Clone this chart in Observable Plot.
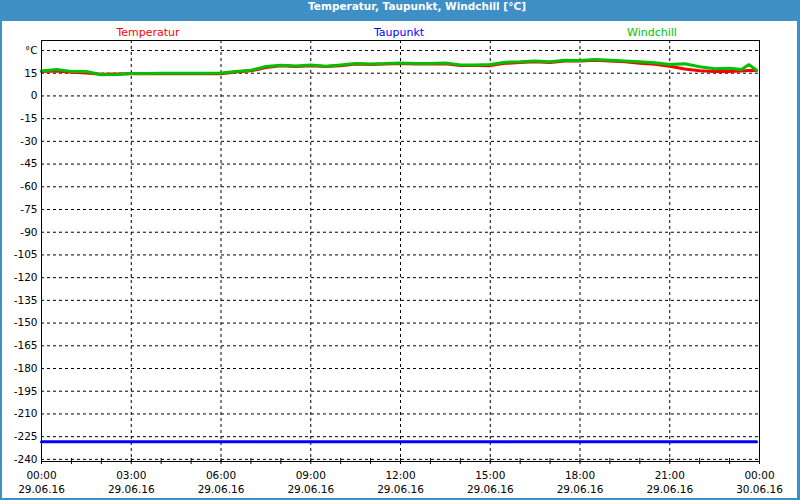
<!DOCTYPE html>
<html>
<head>
<meta charset="utf-8">
<script src="https://cdn.jsdelivr.net/npm/d3@7"></script>
<script src="https://cdn.jsdelivr.net/npm/@observablehq/plot@0.6"></script>
<style>
  html, body { margin: 0; padding: 0; background: #fff; }
  #frame { position: relative; width: 800px; height: 500px; background: #3d8fc6; overflow: hidden; }
  #inner { position: absolute; left: 2px; top: 21px; width: 795px; height: 477px; background: #fff; }
  #title { position: absolute; left: 0; top: 0; width: 834px; height: 21px; line-height: 21px; text-align: center;
           color: #fff; font: bold 10.5px "DejaVu Sans", sans-serif; }
  .leg { position: absolute; top: 26px; font: 11px "DejaVu Sans", sans-serif; transform: translateX(-50%); white-space: nowrap; }
  #chart { position: absolute; left: 0; top: 0; }
</style>
</head>
<body>
<div id="frame">
  <div id="title"></div>
  <div id="inner"><div id="chart"></div></div>
</div>
<script>
// ---- data ----
const title = "Temperatur, Taupunkt, Windchill [°C]";
const seriesNames = ["Temperatur", "Taupunkt", "Windchill"];
const seriesColors = ["#ff0000", "#0000ff", "#00c000"];

const hours = [0, 0.5, 1, 1.5, 2, 2.5, 3, 3.5, 4, 4.5, 5, 5.5, 6, 6.5, 7, 7.5, 8, 8.5, 9, 9.5,
  10, 10.5, 11, 11.5, 12, 12.5, 13, 13.5, 14, 14.5, 15, 15.5, 16, 16.5, 17, 17.5, 18, 18.5, 19, 19.5,
  20, 20.5, 21, 21.5, 22, 22.5, 23, 23.4, 23.65, 23.9];

const temperatur = [16.1, 16.5, 15.6, 15.2, 14.3, 14.5, 14.6, 14.6, 14.6, 14.6, 14.6, 14.6, 14.6, 15.8, 16.6, 18.8, 19.9, 19.4, 20.0, 19.4,
  20.0, 21.0, 20.8, 21.0, 21.4, 21.1, 21.1, 21.2, 20.1, 20.1, 20.0, 21.5, 22.0, 22.6, 22.1, 23.1, 23.1, 23.5, 23.1, 22.5,
  21.5, 20.9, 19.6, 17.8, 16.6, 16.2, 16.2, 16.4, 16.8, 16.8];

const windchill = [16.5, 17.4, 16.1, 16.1, 14.0, 14.2, 14.8, 14.8, 15.0, 15.0, 15.0, 15.0, 15.2, 16.1, 17.0, 19.4, 20.3, 19.8, 20.5, 19.6,
  20.5, 21.4, 21.1, 21.4, 21.8, 21.4, 21.4, 21.8, 20.5, 20.5, 20.8, 22.3, 22.5, 23.1, 22.5, 23.6, 23.4, 24.0, 23.6, 23.1,
  22.6, 21.9, 20.8, 21.2, 19.3, 18.0, 18.3, 17.4, 20.7, 17.0];

const taupunktHours = [0, 23.9];
const taupunkt = [-228.4, -228.4];

const yTicks = [30, 15, 0, -15, -30, -45, -60, -75, -90, -105, -120, -135, -150, -165, -180, -195, -210, -225, -240];
const yTickLabels = ["°C", "15", "0", "-15", "-30", "-45", "-60", "-75", "-90", "-105", "-120", "-135", "-150", "-165", "-180", "-195", "-210", "-225", "-240"];
const xTicks = [0, 3, 6, 9, 12, 15, 18, 21, 24];
const xTickTimes = ["00:00", "03:00", "06:00", "09:00", "12:00", "15:00", "18:00", "21:00", "00:00"];
const xTickDates = ["29.06.16", "29.06.16", "29.06.16", "29.06.16", "29.06.16", "29.06.16", "29.06.16", "29.06.16", "30.06.16"];
const xMinorTicks = d3.range(0, 25);

// ---- build ----
document.getElementById("title").textContent = title;
const legX = [148, 399, 652];
seriesNames.forEach((n, i) => {
  const d = document.createElement("div");
  d.className = "leg";
  d.textContent = n;
  d.style.left = legX[i] + "px";
  d.style.color = seriesColors[i];
  document.getElementById("frame").appendChild(d);
});

const rows = [];
hours.forEach((h, i) => rows.push({h, v: temperatur[i], s: "Temperatur"}));
hours.forEach((h, i) => rows.push({h, v: windchill[i], s: "Windchill"}));
const dew = taupunktHours.map((h, i) => ({h, v: taupunkt[i], s: "Taupunkt"}));

const chart = Plot.plot({
  width: 795,
  height: 477,
  marginLeft: 39,
  marginRight: 38,
  marginTop: 19,
  marginBottom: 37,
  style: {fontFamily: "DejaVu Sans, sans-serif", fontSize: "10.5px", color: "#000", background: "transparent"},
  x: {domain: [0, 24]},
  y: {domain: [-241.4, 36.6]},
  color: {domain: seriesNames, range: seriesColors},
  marks: [
    Plot.gridY(yTicks, {stroke: "#000", strokeOpacity: 1, strokeDasharray: "3,3"}),
    Plot.gridX(xTicks, {stroke: "#000", strokeOpacity: 1, strokeDasharray: "3,3"}),
    Plot.line(dew, {x: "h", y: "v", stroke: "s", strokeWidth: 3}),
    Plot.line(rows.filter(d => d.s === "Temperatur"), {x: "h", y: "v", stroke: "s", strokeWidth: 3, strokeLinejoin: "miter"}),
    Plot.line(rows.filter(d => d.s === "Windchill"), {x: "h", y: "v", stroke: "s", strokeWidth: 3, strokeLinejoin: "miter"}),
    Plot.frame({stroke: "#000"}),
    Plot.axisY(yTicks, {tickSize: 0, tickPadding: 4, tickFormat: (d, i) => yTickLabels[i], label: null}),
    Plot.axisX(xTicks, {tickSize: 0, tickPadding: 7, lineHeight: 1.35, tickFormat: (d, i) => xTickTimes[i] + "\n" + xTickDates[i], label: null}),
    Plot.axisX(xMinorTicks, {tickSize: 6, dy: -3, tickFormat: () => "", label: null, stroke: "#000"})
  ]
});
document.getElementById("chart").appendChild(chart);
</script>
</body>
</html>
